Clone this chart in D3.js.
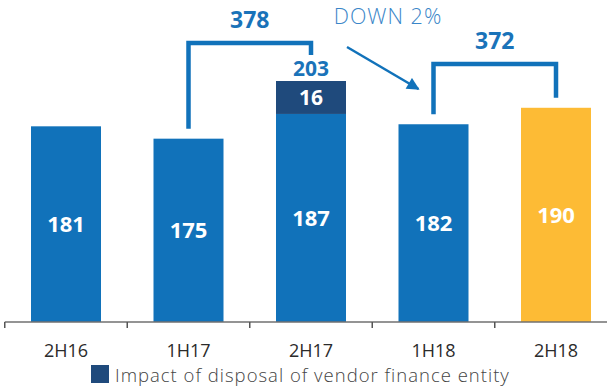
<!DOCTYPE html>
<html>
<head>
<meta charset="utf-8">
<script src="https://cdn.jsdelivr.net/npm/d3@7"></script>
<style>
  html, body { margin: 0; padding: 0; background: #fff; }
  svg { display: block; font-family: "Open Sans", "DejaVu Sans", sans-serif; }
</style>
</head>
<body>
<svg id="chart" width="607" height="388"></svg>
<script>
// Half-year periods and their values
const categories = ["2H16", "1H17", "2H17", "1H18", "2H18"];
const baseValues = [181, 175, 187, 182, 190];
const disposalImpact = [0, 0, 16, 0, 0];
const highlightPeriod = "2H18";
// Pairs of halves summed into a full year
const yearPairs = [["1H17", "2H17"], ["1H18", "2H18"]];
const legendLabel = "Impact of disposal of vendor finance entity";

const W = 607, H = 388;
const baseY = 322;
const BLUE = "#1172ba", NAVY = "#1f4a7c", GOLD = "#fdbb35", TEXTBLUE = "#1a73b9";

const rows = categories.map((c, i) => ({
  cat: c, base: baseValues[i], extra: disposalImpact[i], total: baseValues[i] + disposalImpact[i]
}));
const byCat = new Map(rows.map(r => [r.cat, r]));

const svg = d3.select("#chart");

const x = d3.scaleBand()
  .domain(categories)
  .range([4.75, 617.25])
  .paddingInner(0.4286)
  .paddingOuter(0.2143);
const bw = x.bandwidth();
const cx = c => x(c) + bw / 2;

// Value axis is truncated (does not start at zero)
const y = d3.scaleLinear().domain([86, 203]).range([baseY, 81]);

// Base bars
svg.append("g").selectAll("rect.base").data(rows).join("rect")
  .attr("class", "base")
  .attr("x", d => x(d.cat))
  .attr("width", bw)
  .attr("y", d => y(d.base))
  .attr("height", d => baseY - y(d.base))
  .attr("fill", d => d.cat === highlightPeriod ? GOLD : BLUE);

// Disposal impact segments
const extraRows = rows.filter(d => d.extra > 0);
svg.append("g").selectAll("rect.extra").data(extraRows).join("rect")
  .attr("x", d => x(d.cat))
  .attr("width", bw)
  .attr("y", d => y(d.total))
  .attr("height", d => y(d.base) - y(d.total))
  .attr("fill", NAVY);

// Value labels inside bars
svg.append("g").selectAll("text.val").data(rows).join("text")
  .attr("x", d => cx(d.cat))
  .attr("y", d => (y(d.base) + baseY) / 2)
  .attr("dy", "0.35em")
  .attr("text-anchor", "middle")
  .attr("fill", "#fff")
  .attr("font-size", 22)
  .attr("font-weight", 700)
  .text(d => d.base);

svg.append("g").selectAll("text.extra").data(extraRows).join("text")
  .attr("x", d => cx(d.cat))
  .attr("y", d => (y(d.base) + y(d.total)) / 2)
  .attr("dy", "0.35em")
  .attr("text-anchor", "middle")
  .attr("fill", "#fff")
  .attr("font-size", 21)
  .attr("font-weight", 700)
  .text(d => d.extra);

// Totals above stacked bars
svg.append("g").selectAll("text.tot").data(extraRows).join("text")
  .attr("x", d => cx(d.cat))
  .attr("y", d => y(d.total) - 5)
  .attr("text-anchor", "middle")
  .attr("fill", TEXTBLUE)
  .attr("font-size", 21)
  .attr("font-weight", 700)
  .text(d => d.total);

// Category axis: baseline with ticks between bands
const half = x.step() * x.paddingInner() / 2;
svg.append("line")
  .attr("x1", x(categories[0]) - half).attr("x2", W)
  .attr("y1", baseY).attr("y2", baseY)
  .attr("stroke", "#707070").attr("stroke-width", 1.5);
svg.append("g").selectAll("line.tick").data(categories).join("line")
  .attr("x1", d => x(d) - half).attr("x2", d => x(d) - half)
  .attr("y1", baseY).attr("y2", baseY + 6)
  .attr("stroke", "#555").attr("stroke-width", 1.5);
svg.append("g").selectAll("text.cat").data(categories).join("text")
  .attr("x", d => cx(d))
  .attr("y", 356.5)
  .attr("text-anchor", "middle")
  .attr("fill", "#2b2b2b")
  .attr("font-size", 18)
  .text(d => d);

// Year-total brackets
const legTop = d => (d.extra > 0 ? y(d.total) - 26 : y(d.base) - 10);
const bracketTop = [43, 64];
const brackets = yearPairs.map((p, i) => {
  const a = byCat.get(p[0]), b = byCat.get(p[1]);
  return { a, b, ya: legTop(a), yb: legTop(b), top: bracketTop[i], sum: a.total + b.total };
});
const bg = svg.append("g");
brackets.forEach(bk => {
  const x1 = cx(bk.a.cat), x2 = cx(bk.b.cat);
  bg.append("path")
    .attr("d", `M${x1},${bk.ya}V${bk.top}H${x2}V${bk.yb}`)
    .attr("fill", "none")
    .attr("stroke", BLUE)
    .attr("stroke-width", 4.5);
  bg.append("text")
    .attr("x", (x1 + x2) / 2)
    .attr("y", bk.top - 15)
    .attr("text-anchor", "middle")
    .attr("fill", TEXTBLUE)
    .attr("font-size", 23)
    .attr("font-weight", 700)
    .text(bk.sum);
});

// Year-on-year change annotation
const change = Math.round((brackets[1].sum - brackets[0].sum) / brackets[0].sum * 100);
svg.append("defs").append("marker")
  .attr("id", "arrowhead")
  .attr("viewBox", "0 0 10 10")
  .attr("refX", 9).attr("refY", 5)
  .attr("markerWidth", 6).attr("markerHeight", 5)
  .attr("markerUnits", "strokeWidth")
  .attr("orient", "auto")
  .append("path").attr("d", "M0,0L10,5L0,10Z").attr("fill", BLUE);
svg.append("line")
  .attr("x1", cx("2H17") + 36).attr("y1", 47)
  .attr("x2", cx("1H18") - 15).attr("y2", 89)
  .attr("stroke", BLUE).attr("stroke-width", 2.5)
  .attr("marker-end", "url(#arrowhead)");
svg.append("text")
  .attr("x", 388)
  .attr("y", 23.5)
  .attr("text-anchor", "middle")
  .attr("fill", "#3a86c8")
  .attr("font-size", 21.5)
  .attr("font-weight", 300)
  .attr("letter-spacing", 1)
  .text((change < 0 ? "DOWN " : "UP ") + Math.abs(change) + "%");

// Legend
const lg = svg.append("g");
lg.append("rect").attr("x", 91).attr("y", 365).attr("width", 18).attr("height", 18).attr("fill", NAVY);
lg.append("text")
  .attr("x", 115).attr("y", 382)
  .attr("fill", "#444")
  .attr("font-size", 18.5)
  .attr("font-weight", 300)
  .attr("letter-spacing", 1)
  .text(legendLabel);
</script>
</body>
</html>
